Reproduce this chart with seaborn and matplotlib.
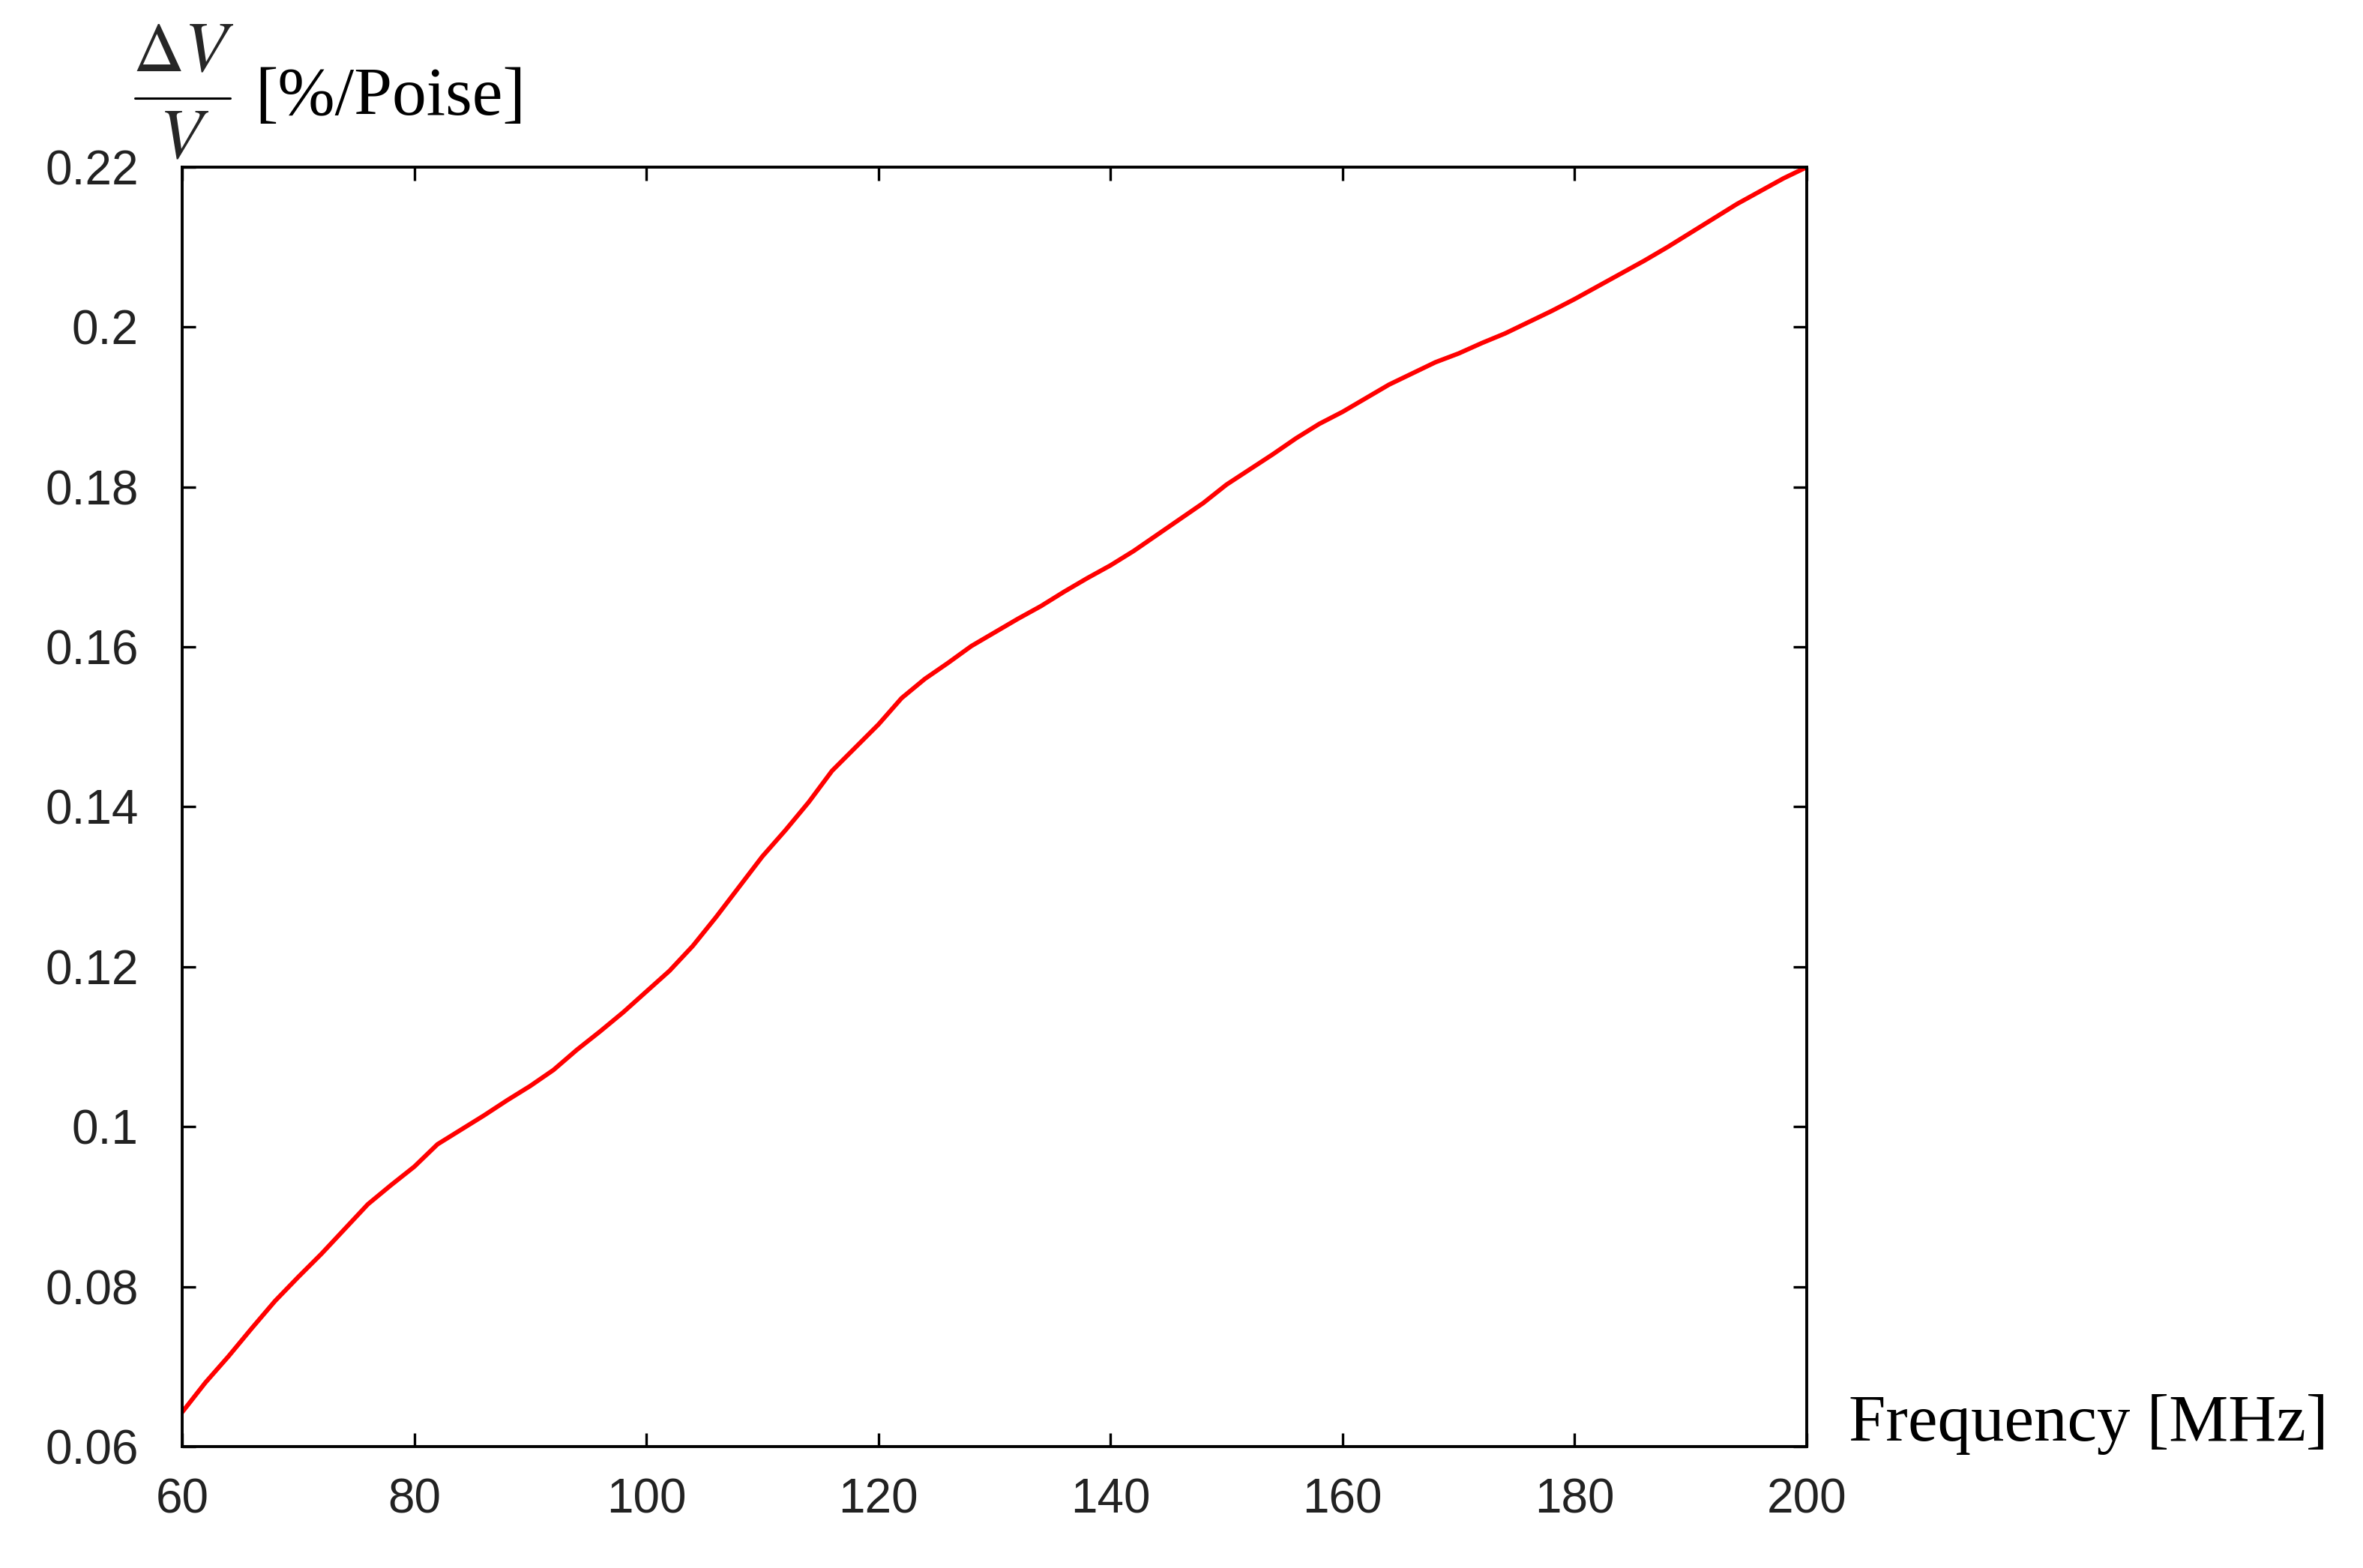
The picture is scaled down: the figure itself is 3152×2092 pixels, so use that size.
import pandas as pd
import matplotlib
matplotlib.use('Agg')
import matplotlib.pyplot as plt
from matplotlib.lines import Line2D
import seaborn as sns

# values
freq = [60, 62, 64, 66, 68, 70, 72, 74, 76, 78, 80, 82, 84, 86, 88, 90, 92, 94, 96, 98,
        100, 102, 104, 106, 108, 110, 112, 114, 116, 118, 120, 122, 124, 126, 128, 130,
        132, 134, 136, 138, 140, 142, 144, 146, 148, 150, 152, 154, 156, 158, 160, 162,
        164, 166, 168, 170, 172, 174, 176, 178, 180, 182, 184, 186, 188, 190, 192, 194,
        196, 198, 200]
dvv = [0.0643, 0.0680, 0.0713, 0.0748, 0.0782, 0.0812, 0.0841, 0.0872, 0.0903, 0.0927,
       0.0950, 0.0978, 0.0996, 0.1014, 0.1033, 0.1051, 0.1071, 0.1096, 0.1119, 0.1143,
       0.1169, 0.1195, 0.1226, 0.1262, 0.1300, 0.1338, 0.1371, 0.1406, 0.1445, 0.1474,
       0.1503, 0.1536, 0.1560, 0.1580, 0.1601, 0.1618, 0.1635, 0.1651, 0.1669, 0.1686,
       0.1702, 0.1720, 0.1740, 0.1760, 0.1780, 0.1803, 0.1822, 0.1841, 0.1861, 0.1879,
       0.1894, 0.1911, 0.1928, 0.1942, 0.1956, 0.1967, 0.1980, 0.1992, 0.2006, 0.2020,
       0.2035, 0.2051, 0.2067, 0.2083, 0.2100, 0.2118, 0.2136, 0.2154, 0.2170, 0.2186,
       0.2200]

x_ticks = [60, 80, 100, 120, 140, 160, 180, 200]
y_ticks = [0.06, 0.08, 0.10, 0.12, 0.14, 0.16, 0.18, 0.20, 0.22]
y_tick_labels = ['0.06', '0.08', '0.1', '0.12', '0.14', '0.16', '0.18', '0.2', '0.22']

sns.set_theme(style='ticks')
plt.rcParams['font.family'] = ['Liberation Sans', 'DejaVu Sans']
plt.rcParams['mathtext.fontset'] = 'stix'

W, H = 3152, 2092
fig = plt.figure(figsize=(W / 100, H / 100), dpi=100)
ax = fig.add_axes([243 / W, 1 - 1930 / H, (2410 - 243) / W, (1930 - 223) / H])

df = pd.DataFrame({'freq': freq, 'dvv': dvv})
sns.lineplot(data=df, x='freq', y='dvv', color='#ff0000', linewidth=4.3, ax=ax)

ax.set_xlim(60, 200)
ax.set_ylim(0.06, 0.22)
ax.set_xticks(x_ticks)
ax.set_yticks(y_ticks)
ax.set_yticklabels(y_tick_labels)
ax.set_xlabel('')
ax.set_ylabel('')

ax.tick_params(direction='in', length=13, width=2.4, top=True, right=True,
               labelsize=46, colors='black', labelcolor='#222222')
ax.tick_params(axis='y', pad=42)
ax.tick_params(axis='x', pad=30)
for s in ax.spines.values():
    s.set_linewidth(2.8)
    s.set_color('black')

serif = 'Liberation Serif'
fig.text(2466 / W, 1 - 1922 / H, 'Frequency [MHz]', family=serif,
         fontsize=64, ha='left', va='baseline', color='black')

# y label: dV/V fraction drawn as numerator, bar, denominator, then the unit
fig.text(245 / W, 1 - 95 / H, r'$\Delta V$', fontsize=68, ha='center', va='baseline')
fig.add_artist(Line2D([180 / W, 307 / W], [1 - 131 / H, 1 - 131 / H],
                      color='black', linewidth=2.2))
fig.text(246 / W, 1 - 210 / H, r'$V$', fontsize=68, ha='center', va='baseline')
fig.text(340 / W, 1 - 153 / H, '[%/Poise]', family=serif,
         fontsize=66, ha='left', va='baseline', color='black')

fig.savefig('out.png', dpi=100)
